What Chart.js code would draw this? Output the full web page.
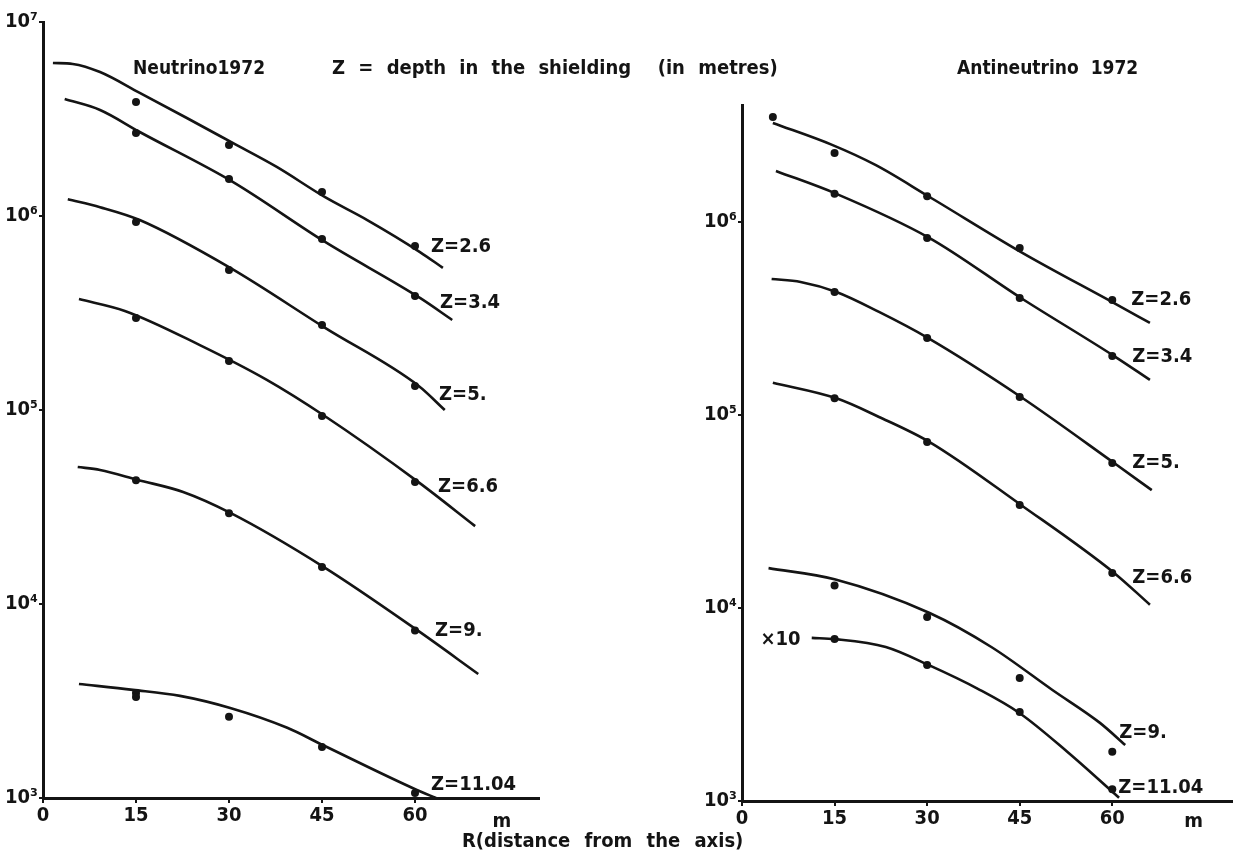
<!DOCTYPE html>
<html><head><meta charset="utf-8">
<script src="https://cdn.jsdelivr.net/npm/chart.js@4.4.1/dist/chart.umd.min.js"></script>
<style>
html,body{margin:0;padding:0;background:#fff;}
#wrap{position:relative;width:1236px;height:852px;overflow:hidden;background:#fff;}
canvas{position:absolute;top:0;}
.t{position:absolute;font-family:'DejaVu Sans Condensed','DejaVu Sans',sans-serif;font-weight:bold;font-size:19px;color:#141414;white-space:pre;line-height:1;}
</style></head><body>
<div id="wrap">
<canvas id="left" width="620" height="852" style="left:0"></canvas>
<canvas id="right" width="616" height="852" style="left:620px"></canvas>
<div class="t" style="left:133px;top:58px">Neutrino1972</div>
<div class="t" style="left:332px;top:57px;font-size:20px;word-spacing:7px">Z = depth in the shielding  (in metres)</div>
<div class="t" style="left:957px;top:58px">Antineutrino  1972</div>
<div class="t" style="left:462px;top:830px;font-size:20px;word-spacing:8px">R(distance from the axis)</div>
</div>
<script>
// ---------- tick labels ----------
const xTickValues = [0, 15, 30, 45, 60];
const decadeValues = [1e3, 1e4, 1e5, 1e6, 1e7];
const decadeLabels = ['10³', '10⁴', '10⁵', '10⁶', '10⁷'];

// ---------- Neutrino 1972 : measured points ----------
const nuR = [15, 30, 45, 60];
const nuZ26 = [3.87e6, 2.32e6, 1.33e6, 7.0e5];
const nuZ34 = [2.68e6, 1.55e6, 7.6e5, 3.87e5];
const nuZ5 = [9.3e5, 5.27e5, 2.74e5, 1.33e5];
const nuZ66 = [2.98e5, 1.79e5, 9.3e4, 4.26e4];
const nuZ9 = [4.35e4, 2.94e4, 1.55e4, 7.3e3];
const nuZ1104R = [15, 15, 30, 45, 60];
const nuZ1104 = [3.48e3, 3.32e3, 2.62e3, 1.83e3, 1.06e3];

// ---------- Neutrino 1972 : fitted curves ----------
const nuZ26FitR = [1.6, 4.8, 9.2, 15.6, 23.2, 30.6, 37.7, 45.5, 52.3, 60.8, 64.5];
const nuZ26Fit = [6.15e6, 6.08e6, 5.52e6, 4.31e6, 3.20e6, 2.38e6, 1.79e6, 1.25e6, 9.53e5, 6.52e5, 5.40e5];
const nuZ34FitR = [3.5, 9.2, 15.6, 30.6, 45.5, 60.8, 66.0];
const nuZ34Fit = [4.01e6, 3.52e6, 2.71e6, 1.50e6, 7.35e5, 3.78e5, 2.91e5];
const nuZ5FitR = [4.0, 9.2, 15.6, 30.2, 45.5, 60.6, 64.8];
const nuZ5Fit = [1.22e6, 1.11e6, 9.53e5, 5.40e5, 2.65e5, 1.33e5, 1.0e5];
const nuZ66FitR = [5.8, 13.2, 25.3, 36.1, 45.2, 60.5, 69.7];
const nuZ66Fit = [3.73e5, 3.24e5, 2.16e5, 1.43e5, 9.42e4, 4.26e4, 2.52e4];
const nuZ9FitR = [5.6, 9.2, 15.3, 22.6, 30.3, 45.3, 60.3, 70.2];
const nuZ9Fit = [5.08e4, 4.91e4, 4.36e4, 3.78e4, 2.94e4, 1.55e4, 7.35e3, 4.36e3];
const nuZ1104FitR = [5.8, 14.5, 22.1, 30.2, 39.4, 45.2, 60.3, 63.4];
const nuZ1104Fit = [3.87e3, 3.61e3, 3.36e3, 2.91e3, 2.30e3, 1.87e3, 1.10e3, 1.0e3];

// ---------- Antineutrino 1972 : measured points ----------
const antiR = [15, 30, 45, 60];
const antiZ26R = [5, 15, 30, 45, 60];
const antiZ26 = [3.50e6, 2.28e6, 1.36e6, 7.33e5, 3.94e5];
const antiZ34 = [1.40e6, 8.26e5, 4.04e5, 2.02e5];
const antiZ5 = [4.34e5, 2.51e5, 1.24e5, 5.64e4];
const antiZ66 = [1.22e5, 7.24e4, 3.42e4, 1.52e4];
const antiZ9 = [1.31e4, 8.98e3, 4.34e3, 1.80e3];
const antiZ1104x10 = [6.90e3, 5.07e3, 2.89e3, 1.15e3];

// ---------- Antineutrino 1972 : fitted curves ----------
const antiZ26FitR = [5.0, 14.6, 21.7, 30.2, 45.5, 60.3, 66.1];
const antiZ26Fit = [3.26e6, 2.51e6, 1.97e6, 1.36e6, 6.90e5, 3.80e5, 3.00e5];
const antiZ34FitR = [5.5, 15.3, 30.4, 45.2, 60.3, 66.1];
const antiZ34Fit = [1.84e6, 1.40e6, 8.26e5, 4.04e5, 2.02e5, 1.52e5];
const antiZ5FitR = [4.8, 9.5, 15.3, 22.2, 30.1, 45.2, 60.3, 66.4];
const antiZ5Fit = [5.07e5, 4.89e5, 4.34e5, 3.42e5, 2.51e5, 1.24e5, 5.64e4, 4.08e4];
const antiZ66FitR = [5.0, 15.3, 22.2, 30.4, 45.2, 60.3, 66.1];
const antiZ66Fit = [1.47e5, 1.22e5, 9.77e4, 7.24e4, 3.42e4, 1.52e4, 1.04e4];
const antiZ9FitR = [4.3, 15.0, 30.4, 40.4, 50.3, 58.0, 62.1];
const antiZ9Fit = [1.61e4, 1.41e4, 9.42e3, 6.28e3, 3.76e3, 2.54e3, 1.95e3];
const antiZ1104FitR = [11.3, 15.1, 23.3, 30.2, 38.3, 45.0, 52.7, 61.1];
const antiZ1104Fit = [7.00e3, 6.90e3, 6.28e3, 5.07e3, 3.80e3, 2.85e3, 1.80e3, 1.04e3];

// ---------- styling ----------
const FONT = "'DejaVu Sans Condensed','DejaVu Sans',sans-serif";
const INK = '#141414';

function pts(xs, ys) { return xs.map((x, i) => ({ x: x, y: ys[i] })); }
function curveDs(xs, ys) {
  return { data: pts(xs, ys), showLine: true, pointRadius: 0, pointHoverRadius: 0,
    borderColor: INK, borderWidth: 2.6, cubicInterpolationMode: 'monotone', fill: false, order: 1 };
}
function pointDs(xs, ys) {
  return { data: pts(xs, ys), showLine: false, pointRadius: 4, pointHoverRadius: 4,
    backgroundColor: INK, borderColor: INK, pointBorderWidth: 0, order: 0 };
}

function makeLabelPlugin(items, unitAt, unitDy) {
  return {
    id: 'zlabels',
    afterDatasetsDraw(chart) {
      const ctx = chart.ctx;
      ctx.save();
      ctx.fillStyle = INK;
      ctx.font = 'bold 20px ' + FONT;
      ctx.textBaseline = 'middle';
      items.forEach(it => {
        const meta = chart.getDatasetMeta(it.ds);
        const el = it.first ? meta.data[0] : meta.data[meta.data.length - 1];
        ctx.textAlign = it.align || 'left';
        ctx.fillText(it.text, el.x + it.dx, el.y + it.dy);
      });
      const xs = chart.scales.x;
      ctx.textAlign = 'center';
      ctx.fillText('m', xs.getPixelForValue(unitAt), xs.top + unitDy);
      ctx.restore();
    }
  };
}

function makeChart(id, datasets, cfg) {
  const tickFont = { family: FONT, size: 20, weight: 'bold' };
  return new Chart(document.getElementById(id), {
    type: 'scatter',
    data: { datasets: datasets },
    options: {
      responsive: false, animation: false, devicePixelRatio: 1,
      layout: { padding: { top: cfg.top, right: cfg.right, left: 0, bottom: 0 } },
      plugins: { legend: { display: false }, tooltip: { enabled: false } },
      events: [],
      scales: {
        x: {
          type: 'linear', min: 0, max: cfg.xMax,
          afterBuildTicks: s => { s.ticks = xTickValues.map(v => ({ value: v })); },
          afterFit: s => { s.height = cfg.xH; },
          border: { display: true, color: INK, width: 3 },
          grid: { display: true, drawOnChartArea: false, drawTicks: true, tickLength: 5, color: INK, lineWidth: 2 },
          ticks: { color: INK, font: tickFont, padding: 1, maxRotation: 0, autoSkip: false, callback: v => String(v) }
        },
        y: {
          type: 'logarithmic', min: 1e3, max: cfg.yMax,
          afterBuildTicks: s => { s.ticks = decadeValues.filter(v => v <= cfg.yMax).map(v => ({ value: v })); },
          afterFit: s => { s.width = cfg.yW; },
          border: { display: true, color: INK, width: 3 },
          grid: { display: true, drawOnChartArea: false, drawTicks: true, tickLength: 4, color: INK, lineWidth: 2 },
          ticks: { color: INK, font: tickFont, padding: 1, autoSkip: false,
            callback: v => decadeLabels[decadeValues.indexOf(v)] }
        }
      }
    },
    plugins: [makeLabelPlugin(cfg.labels, cfg.unitAt, cfg.unitDy)]
  });
}

// ---------- left: Neutrino ----------
const leftSets = [
  curveDs(nuZ26FitR, nuZ26Fit), curveDs(nuZ34FitR, nuZ34Fit), curveDs(nuZ5FitR, nuZ5Fit),
  curveDs(nuZ66FitR, nuZ66Fit), curveDs(nuZ9FitR, nuZ9Fit), curveDs(nuZ1104FitR, nuZ1104Fit),
  pointDs(nuR, nuZ26), pointDs(nuR, nuZ34), pointDs(nuR, nuZ5),
  pointDs(nuR, nuZ66), pointDs(nuR, nuZ9), pointDs(nuZ1104R, nuZ1104)
];
makeChart('left', leftSets, {
  top: 22, right: 81, xMax: 80, xH: 54, yW: 43, yMax: 1e7, unitAt: 74, unitDy: 24,
  labels: [
    { ds: 6, text: 'Z=2.6', dx: 16, dy: 1 },
    { ds: 7, text: 'Z=3.4', dx: 25, dy: 7 },
    { ds: 8, text: 'Z=5.', dx: 24, dy: 9 },
    { ds: 9, text: 'Z=6.6', dx: 23, dy: 5 },
    { ds: 10, text: 'Z=9.', dx: 20, dy: 0 },
    { ds: 11, text: 'Z=11.04', dx: 16, dy: -8 }
  ]
});

// ---------- right: Antineutrino ----------
const rightSets = [
  curveDs(antiZ26FitR, antiZ26Fit), curveDs(antiZ34FitR, antiZ34Fit), curveDs(antiZ5FitR, antiZ5Fit),
  curveDs(antiZ66FitR, antiZ66Fit), curveDs(antiZ9FitR, antiZ9Fit), curveDs(antiZ1104FitR, antiZ1104Fit),
  pointDs(antiZ26R, antiZ26), pointDs(antiR, antiZ34), pointDs(antiR, antiZ5),
  pointDs(antiR, antiZ66), pointDs(antiR, antiZ9), pointDs(antiR, antiZ1104x10)
];
makeChart('right', rightSets, {
  top: 105, right: 0, xMax: 79.4, xH: 51, yW: 122, yMax: 4.04e6, unitAt: 73.2, unitDy: 21,
  labels: [
    { ds: 6, text: 'Z=2.6', dx: 19, dy: 0 },
    { ds: 7, text: 'Z=3.4', dx: 20, dy: 1 },
    { ds: 8, text: 'Z=5.', dx: 20, dy: 0 },
    { ds: 9, text: 'Z=6.6', dx: 20, dy: 5 },
    { ds: 10, text: 'Z=9.', dx: 7, dy: -19 },
    { ds: 11, text: 'Z=11.04', dx: 6, dy: -1 },
    { ds: 11, text: '×10', dx: -34, dy: 1, first: true, align: 'right' }
  ]
});
</script>
</body></html>
